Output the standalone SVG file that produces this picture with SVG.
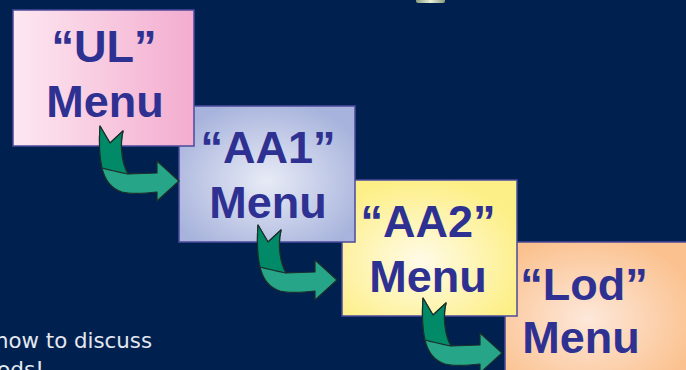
<svg xmlns="http://www.w3.org/2000/svg" width="686" height="370" viewBox="0 0 686 370">
<defs>
<linearGradient id="gUL" x1="0" y1="0" x2="1" y2="0">
<stop offset="0" stop-color="#fde8f1"/><stop offset="1" stop-color="#f3accf"/>
</linearGradient>
<radialGradient id="gAA1" cx="0.5" cy="0.55" r="0.6">
<stop offset="0" stop-color="#e8ebf6"/><stop offset="1" stop-color="#a7b3dc"/>
</radialGradient>
<radialGradient id="gAA2" cx="0.45" cy="0.6" r="0.6">
<stop offset="0" stop-color="#fffbe8"/><stop offset="1" stop-color="#fdef88"/>
</radialGradient>
<radialGradient id="gLod" cx="0.45" cy="0.55" r="0.6">
<stop offset="0" stop-color="#fde8da"/><stop offset="1" stop-color="#fbc290"/>
</radialGradient>
<linearGradient id="gTop" x1="0" y1="0" x2="1" y2="0">
<stop offset="0" stop-color="#8a9a80"/><stop offset="0.5" stop-color="#e8f0d8"/><stop offset="1" stop-color="#8a9a80"/>
</linearGradient>
<g id="arrow">
<path d="M100,126 L110,143 L123,131 C120,143 121,162 128,174 L157,173 L157,161 L179,181 L157,201 L157,192 C140,194 130,194 122,192 C112,189 105,181 102,168 C99,155 99,140 100,126 Z" fill="#26a589" stroke="#1b2e2a" stroke-width="1.2" stroke-linejoin="round"/>
<path d="M100,126 L110,143 L123,131 C120,143 121,162 128,174 C118,172 109,170 102,168 C99,155 99,140 100,126 Z" fill="#008a68" stroke="#1b2e2a" stroke-width="1.2" stroke-linejoin="round"/>
</g>
</defs>
<style>
.box{stroke:#4b4a9c;stroke-width:1.5}
.lbl{font-family:"Liberation Sans",Arial,sans-serif;font-weight:bold;font-size:45px;fill:#2e3192;text-anchor:middle}
.note{font-family:"DejaVu Sans","Liberation Sans",sans-serif;font-size:21px;fill:#e4e8f2}
</style>
<rect width="686" height="370" fill="#00214f"/>
<path d="M416,0 L445,0 L445,1 Q445,3 442,3 L419,3 Q416,3 416,1 Z" fill="url(#gTop)"/>
<text class="note" x="-5" y="348" textLength="157" lengthAdjust="spacingAndGlyphs">how to discuss</text>
<text class="note" x="-3" y="377" textLength="47" lengthAdjust="spacingAndGlyphs">ods!</text>
<g id="node-lod">
<rect class="box" x="505" y="242" width="185" height="140" fill="url(#gLod)"/>
<text class="lbl" x="584" y="300">“Lod”</text>
<text class="lbl" x="581" y="353">Menu</text>
</g>
<g id="node-aa2">
<rect class="box" x="342" y="180" width="175" height="136" fill="url(#gAA2)"/>
<text class="lbl" x="428" y="237">“AA2”</text>
<text class="lbl" x="428" y="292">Menu</text>
</g>
<g id="node-aa1">
<rect class="box" x="179" y="106" width="176" height="136" fill="url(#gAA1)"/>
<text class="lbl" x="268" y="163">“AA1”</text>
<text class="lbl" x="268" y="218">Menu</text>
</g>
<g id="node-ul">
<rect class="box" x="13" y="10" width="181" height="136" fill="url(#gUL)"/>
<text class="lbl" x="104" y="62">“UL”</text>
<text class="lbl" x="105" y="117">Menu</text>
</g>
<g id="connectors">
<use href="#arrow"/>
<use href="#arrow" transform="translate(158,99)"/>
<use href="#arrow" transform="translate(323,172)"/>
</g>
</svg>
